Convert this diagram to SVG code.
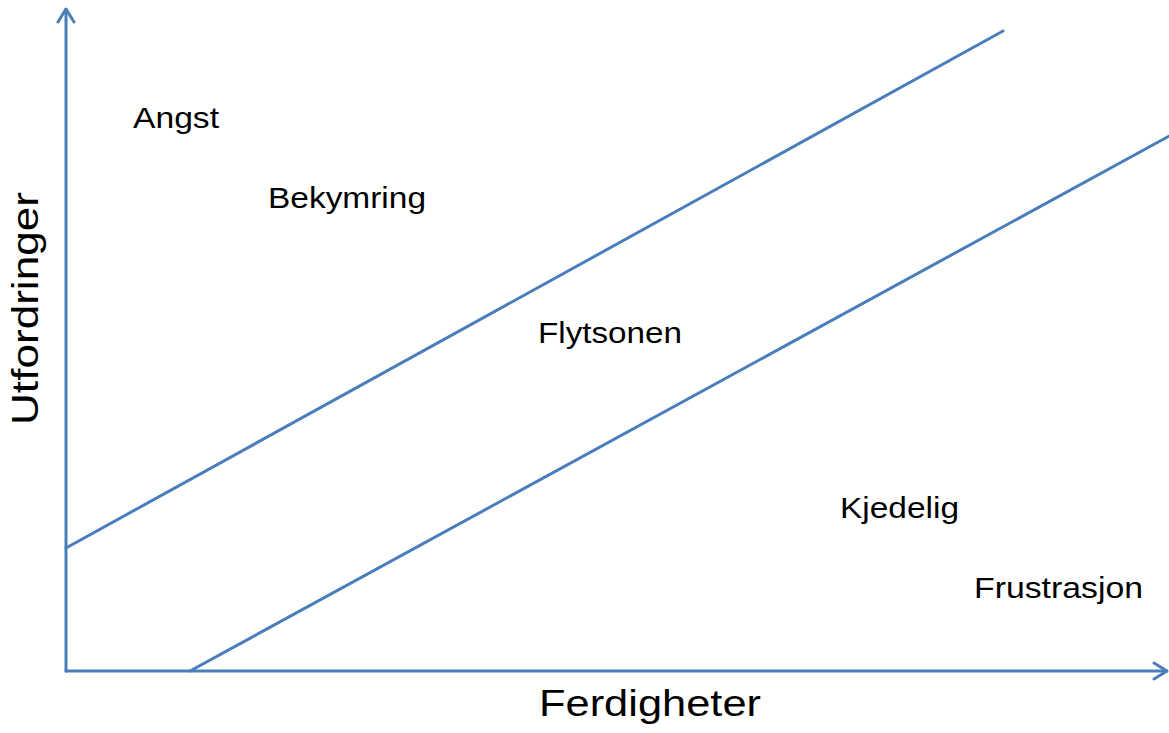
<svg xmlns="http://www.w3.org/2000/svg" width="1169" height="733" viewBox="0 0 1169 733">
<defs>
<style>
.ln{stroke:#4A7EBB;stroke-width:3;fill:none;stroke-linecap:round}
.lbl{font-family:"Liberation Sans",Arial,sans-serif;font-size:30px;fill:#000}
.ax{font-family:"Liberation Sans",Arial,sans-serif;font-size:37px;fill:#000}
</style>
<marker id="arr" viewBox="0 0 16 20" refX="15" refY="10" markerWidth="16" markerHeight="20" markerUnits="userSpaceOnUse" orient="auto">
<path d="M2,2 L15,10 L2,18" fill="none" stroke="#4A7EBB" stroke-width="3" stroke-linecap="round" stroke-linejoin="round"/>
</marker>
</defs>
<rect width="1169" height="733" fill="#fff"/>
<g id="connectors">
<line class="ln" x1="66" y1="671" x2="66" y2="9" marker-end="url(#arr)"/>
<line class="ln" x1="66" y1="671" x2="1167" y2="671" marker-end="url(#arr)"/>
<line class="ln" x1="66" y1="548" x2="1003" y2="31"/>
<line class="ln" x1="190" y1="671" x2="1171" y2="135"/>
</g>
<g id="angst"><text class="lbl" x="133" y="128" textLength="86" lengthAdjust="spacingAndGlyphs">Angst</text></g>
<g id="bekymring"><text class="lbl" x="268" y="208" textLength="158" lengthAdjust="spacingAndGlyphs">Bekymring</text></g>
<g id="flytsonen"><text class="lbl" x="538" y="343" textLength="144" lengthAdjust="spacingAndGlyphs">Flytsonen</text></g>
<g id="kjedelig"><text class="lbl" x="840" y="518" textLength="119" lengthAdjust="spacingAndGlyphs">Kjedelig</text></g>
<g id="frustrasjon"><text class="lbl" x="974" y="598" textLength="169" lengthAdjust="spacingAndGlyphs">Frustrasjon</text></g>
<g id="x-label"><text class="ax" x="539" y="716" textLength="222" lengthAdjust="spacingAndGlyphs">Ferdigheter</text></g>
<g id="y-label"><text class="ax" transform="translate(38,425) rotate(-90)" x="0" y="0" textLength="233" lengthAdjust="spacingAndGlyphs">Utfordringer</text></g>
</svg>
